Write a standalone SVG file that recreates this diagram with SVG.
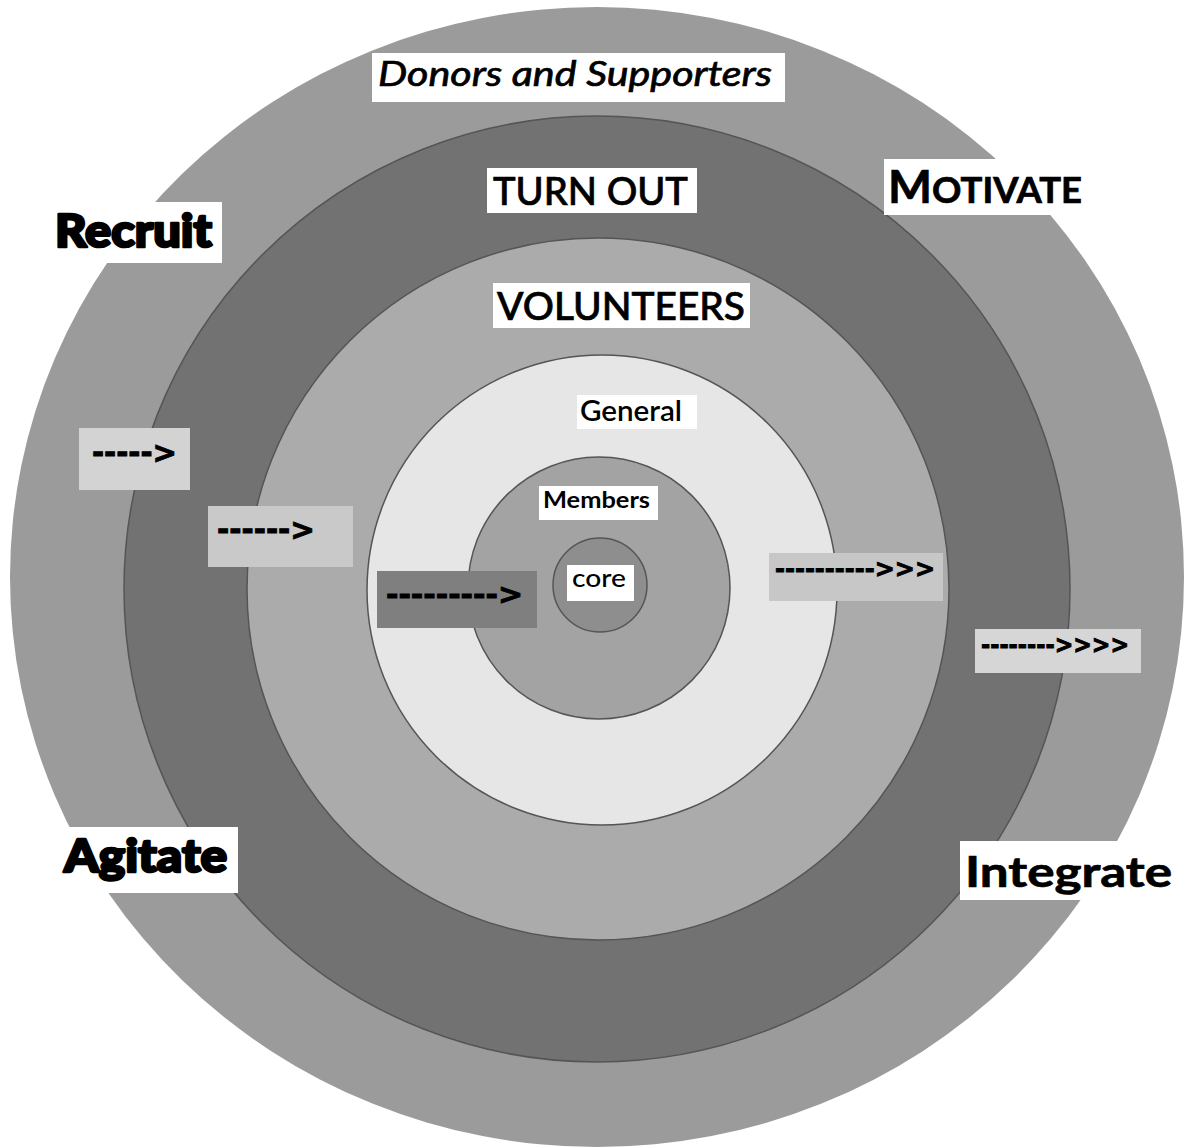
<svg xmlns="http://www.w3.org/2000/svg" width="1185" height="1147" viewBox="0 0 1185 1147">
<style>
.box{fill:#ffffff}
.t{font-family:Lato,"Open Sans","DejaVu Sans",sans-serif;fill:#000}
.heavy{font-weight:900;stroke:#000;stroke-width:2.6;stroke-linejoin:round}
.bold{font-weight:700}
.med{stroke:#000;stroke-width:0.7}
.ring{stroke:#555;stroke-width:1.5}
.arr{font-family:"DejaVu Sans",Lato,sans-serif;font-weight:700;fill:#000;stroke:#000;stroke-width:0.9}
</style>
<rect x="0" y="0" width="1185" height="1147" fill="#ffffff"/>
<g id="ring-donors"><ellipse cx="597" cy="577" rx="587" ry="570" fill="#9b9b9b"/></g>
<g id="ring-turnout"><circle class="ring" cx="597" cy="589" r="473" fill="#727272" stroke="#4a4a4a"/></g>
<g id="ring-volunteers"><circle class="ring" cx="598" cy="589" r="351" fill="#ababab"/></g>
<g id="ring-general"><circle class="ring" cx="602" cy="590" r="235" fill="#e6e6e6" stroke="#666"/></g>
<g id="ring-members"><circle class="ring" cx="599" cy="588" r="131" fill="#a3a3a3" stroke="#666"/></g>
<g id="ring-core"><circle class="ring" cx="600" cy="585" r="47" fill="#8e8e8e" stroke="#666"/></g>

<g id="label-donors"><rect class="box" x="372" y="53" width="413" height="49"/><text class="t med" x="378" y="86" font-size="34" font-style="italic" textLength="394" lengthAdjust="spacingAndGlyphs">Donors and Supporters</text></g>
<g id="label-turnout"><rect class="box" x="487" y="168" width="210" height="45"/><text class="t med" x="493" y="205" font-size="38" font-weight="500" textLength="195" lengthAdjust="spacingAndGlyphs">TURN OUT</text></g>
<g id="label-volunteers"><rect class="box" x="493" y="283" width="257" height="45"/><text class="t med" x="497" y="320" font-size="38" font-weight="500" textLength="248" lengthAdjust="spacingAndGlyphs">VOLUNTEERS</text></g>
<g id="label-general"><rect class="box" x="577" y="395" width="120" height="34"/><text class="t" x="580" y="421" font-size="28" font-weight="600" textLength="102" lengthAdjust="spacingAndGlyphs">General</text></g>
<g id="label-members"><rect class="box" x="539" y="486" width="119" height="34"/><text class="t bold" x="543" y="508" font-size="22" textLength="107" lengthAdjust="spacingAndGlyphs">Members</text></g>
<g id="label-core"><rect class="box" x="567" y="565" width="67" height="36"/><text class="t" x="572" y="587" font-size="24" font-weight="500" textLength="54" lengthAdjust="spacingAndGlyphs">core</text></g>

<g id="label-recruit"><rect class="box" x="45" y="202" width="177" height="61"/><text class="t heavy" x="55" y="247" font-size="46" textLength="157" lengthAdjust="spacingAndGlyphs">Recruit</text></g>
<g id="label-agitate"><rect class="box" x="55" y="827" width="183" height="66"/><text class="t heavy" x="64" y="872" font-size="46" textLength="163" lengthAdjust="spacingAndGlyphs">Agitate</text></g>
<g id="label-motivate"><rect class="box" x="884" y="159" width="206" height="56"/><text class="t bold med" x="888" y="203" textLength="194" lengthAdjust="spacingAndGlyphs"><tspan font-size="46">M</tspan><tspan font-size="36">OTIVATE</tspan></text></g>
<g id="label-integrate"><rect class="box" x="960" y="841" width="215" height="59"/><text class="t bold med" x="965" y="887" font-size="42" textLength="207" lengthAdjust="spacingAndGlyphs">Integrate</text></g>

<g id="arrows">
<g id="arrow-1"><rect x="79" y="428" width="111" height="62" fill="#d3d3d3"/><text class="arr" x="92" y="463" font-size="30" textLength="85" lengthAdjust="spacingAndGlyphs">-----&gt;</text></g>
<g id="arrow-2"><rect x="208" y="506" width="145" height="61" fill="#c9c9c9"/><text class="arr" x="217" y="540" font-size="30" textLength="98" lengthAdjust="spacingAndGlyphs">------&gt;</text></g>
<g id="arrow-3"><rect x="377" y="571" width="160" height="57" fill="#7f7f7f"/><text class="arr" x="386" y="604" font-size="28" textLength="137" lengthAdjust="spacingAndGlyphs">---------&gt;</text></g>
<g id="arrow-4"><rect x="769" y="553" width="174" height="48" fill="#c7c7c7"/><text class="arr" x="775" y="577" font-size="24" textLength="160" lengthAdjust="spacingAndGlyphs">----------&gt;&gt;&gt;</text></g>
<g id="arrow-5"><rect x="975" y="629" width="166" height="44" fill="#d6d6d6"/><text class="arr" x="981" y="653" font-size="24" textLength="148" lengthAdjust="spacingAndGlyphs">--------&gt;&gt;&gt;&gt;</text></g>
</g>
</svg>
